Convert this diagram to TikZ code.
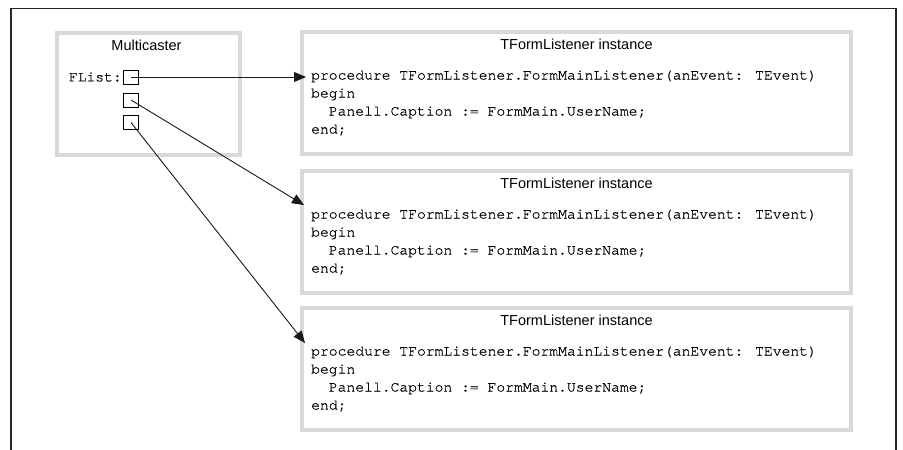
\documentclass[tikz,border=0pt]{standalone}
\usepackage{fontspec}
\newfontfamily\sansf{Liberation Sans}
\newfontfamily\codef{TeX Gyre Cursor}[FakeBold=0.6]
\usetikzlibrary{arrows.meta,calc}
\begin{document}
\begin{tikzpicture}[x=1pt,y=-1pt,
  frame/.style={line width=1.6pt, draw=black!85},
  graybox/.style={draw=black!15, line width=4pt, fill=white, inner sep=0pt, anchor=north west},
  slot/.style={draw=black, line width=1pt, minimum width=15pt, minimum height=14pt, inner sep=0pt},
  title/.style={font=\sansf\fontsize{14.5}{16}\selectfont, inner sep=0pt, anchor=base},
  code/.style={font=\codef\fontsize{14.7}{18}\selectfont, inner sep=0pt, anchor=base west},
  link/.style={line width=0.9pt, draw=black!90, -{Triangle[length=12pt,width=10pt]}}
]
\useasboundingbox[fill=white] (0,0) rectangle (903,450);
\draw[frame] (10.8,450) -- (10.8,8.5) -- (896,8.5) -- (896,450);

% Multicaster
\node[graybox, minimum width=183pt, minimum height=122pt] (M) at (55,31) {};
\node[title] (Mt) at (146.5,50.5) {Multicaster};
\node[slot] (s1) at (131,77) {};
\node[slot] (s2) at (131,100) {};
\node[slot] (s3) at (131,122.5) {};
\node[code, anchor=east] (fl) at ($(s1.west)+(-1,0)$) {FList:};

% Listener instances
\foreach \i/\t in {1/30,2/169,3/306} {
  \node[graybox, minimum width=549pt, minimum height=122pt] (L\i) at (300,\t) {};
  \node[title] (T\i) at ($(L\i.north)+(0,19)$) {TFormListener instance};
  \node[code] (Ca\i) at ($(L\i.north west)+(11,49.5)$) {procedure TFormListener.FormMainListener(anEvent: TEvent)};
  \node[code] (Cb\i) at ($(L\i.north west)+(11,67.5)$) {begin};
  \node[code] (Cc\i) at ($(L\i.north west)+(11,85.5)$) {\phantom{xx}Panell.Caption := FormMain.UserName;};
  \node[code] (Cd\i) at ($(L\i.north west)+(11,103.5)$) {end;};
}

% connectors
\coordinate (t1) at (306,77);
\coordinate (t2) at (304,205);
\coordinate (t3) at (305,343);
\draw[link] (s1.center) -- (t1);
\draw[link] (s2.center) -- (t2);
\draw[link] (s3.center) -- (t3);
\end{tikzpicture}
\end{document}
